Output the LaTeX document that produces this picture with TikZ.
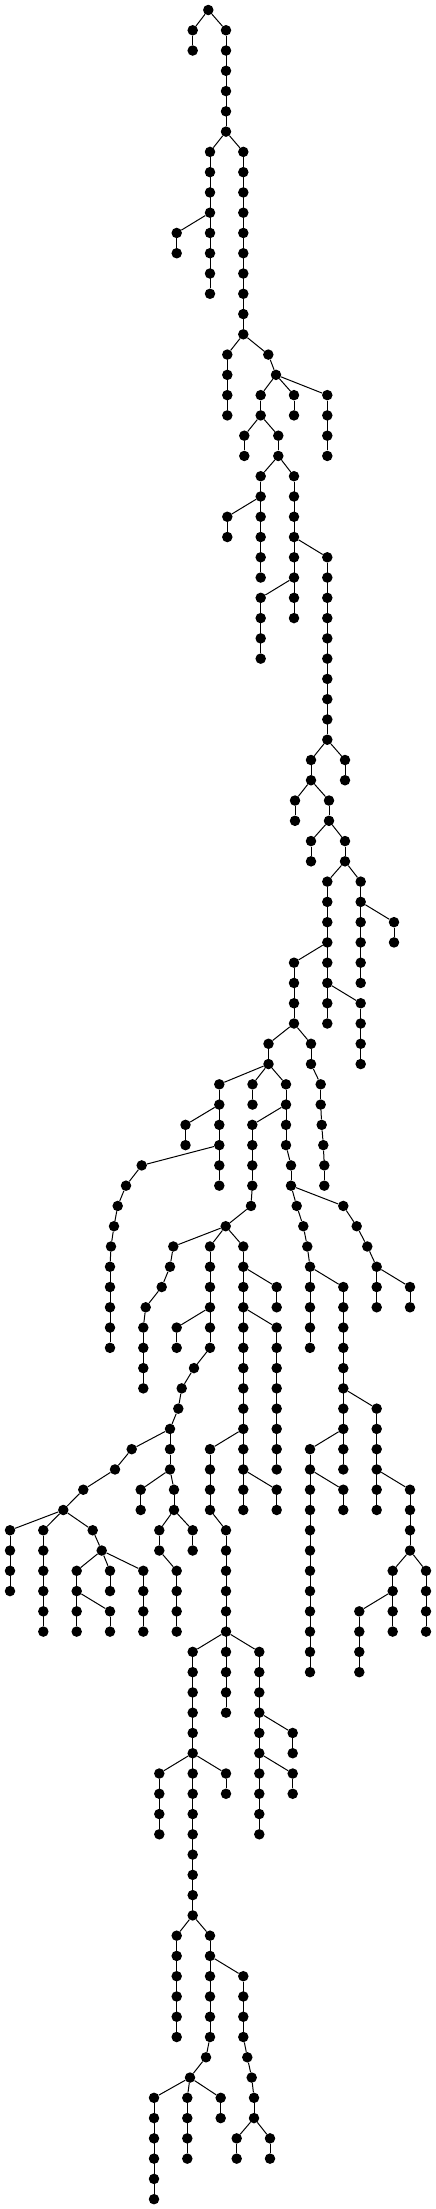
\documentclass[tikz,border=0pt]{standalone}
\tikzset{dot/.style={circle,fill=black,draw=none,inner sep=0pt,minimum size=10.5pt},
lnk/.style={line width=1pt,black}}
\newcommand\Yv[1]{-10-20.27*(#1)}
\newcommand\C[4]{\node[dot] (#1) at (#3,{\Yv{#4}}) {}; \draw[lnk] (#2) -- (#1);}
\newcommand\Ch[5]{%
 \foreach \l in {#4,...,#5}{\node[dot] (#1-\l) at (#3,{\Yv{\l}}) {};}%
 \draw[lnk] (#2) -- (#1-#4);%
 \ifnum#4<#5\relax \draw[lnk] (#1-#4) -- (#1-#5);\fi}
\begin{document}
\begin{tikzpicture}[x=1pt,y=1pt]
\useasboundingbox (0,0) rectangle (436,-2209);
\node[dot] (r) at (208.3,{\Yv{0}}) {};
\Ch{a}{r}{192.7}{1}{2}
\Ch{b}{r}{226}{1}{6}
\Ch{c}{b-6}{210}{7}{14}
\Ch{e}{c-10}{176.7}{11}{12}
\Ch{d}{b-6}{243.3}{7}{16}
\Ch{f}{d-16}{227.3}{17}{20}
\Ch{g}{d-16}{268.3}{17}{17}
\Ch{h}{g-17}{276}{18}{18}
\Ch{i}{h-18}{260.7}{19}{20}
\Ch{j}{h-18}{294}{19}{20}
\Ch{k}{h-18}{327.3}{19}{22}
\Ch{ia}{i-20}{244.3}{21}{22}
\Ch{ib}{i-20}{278.3}{21}{22}
\Ch{m}{ib-22}{260.7}{23}{28}
\Ch{ma}{m-24}{227.3}{25}{26}
\Ch{n}{ib-22}{294}{23}{30}
\Ch{o}{n-28}{260.7}{29}{32}
\Ch{p}{n-26}{327.3}{27}{36}
\Ch{q}{p-36}{345}{37}{38}
\Ch{s}{p-36}{311}{37}{38}
\Ch{sa}{s-38}{295}{39}{40}
\Ch{t}{s-38}{329}{39}{40}
\Ch{ta}{t-40}{311}{41}{42}
\Ch{u}{t-40}{345}{41}{42}
\Ch{v}{u-42}{327.3}{43}{50}
\Ch{w}{u-42}{360.7}{43}{48}
\Ch{wa}{w-44}{394}{45}{46}
\Ch{xx}{v-46}{294}{47}{50}
\Ch{y}{v-48}{360.7}{49}{52}
\Ch{z}{xx-50}{268.5}{51}{52}
\Ch{za}{xx-50}{311}{51}{52}
\C{zb53}{za-52}{320.7}{53}
\C{zb54}{zb53}{320.7}{54}
\C{zb55}{zb54}{321.7}{55}
\C{zb56}{zb55}{323.3}{56}
\C{zb57}{zb56}{324.3}{57}
\C{zb58}{zb57}{324.3}{58}
\Ch{P}{z-52}{219.3}{53}{58}
\Ch{Pa}{P-54}{185.5}{55}{56}
\Ch{R}{z-52}{252.5}{53}{54}
\Ch{S}{z-52}{286}{53}{56}
\C{S57}{S-56}{291}{57}
\C{S58}{S57}{291}{58}
\C{S59}{S58}{296.7}{59}
\C{S60}{S59}{303.3}{60}
\C{S61}{S60}{307.3}{61}
\Ch{cc}{S61}{310}{62}{66}
\Ch{aa}{cc-62}{343.3}{63}{72}
\Ch{ab}{aa-68}{376.7}{69}{74}
\Ch{ac}{ab-72}{410}{73}{76}
\Ch{ad}{ac-76}{392.7}{77}{80}
\Ch{ae}{ad-78}{359.3}{79}{82}
\Ch{af}{ac-76}{426}{77}{80}
\Ch{ag}{aa-70}{310}{71}{82}
\Ch{ah}{ag-72}{343.3}{73}{74}
\C{bb59}{S58}{343.3}{59}
\C{bb60}{bb59}{356.7}{60}
\C{bb61}{bb60}{367.3}{61}
\C{bb62}{bb61}{376.7}{62}
\Ch{bc}{bb62}{376.7}{63}{64}
\Ch{bd}{bb62}{410}{63}{64}
\Ch{pp}{S-54}{252.3}{55}{58}
\C{pp59}{pp-58}{251}{59}
\C{qq}{pp59}{225.7}{60}
\C{ra61}{qq}{173.3}{61}
\C{ra62}{ra61}{170}{62}
\C{ra63}{ra62}{161.7}{63}
\C{ra64}{ra63}{145.7}{64}
\Ch{rc}{ra64}{143.3}{65}{68}
\Ch{rb}{qq}{210}{61}{66}
\Ch{rbb}{rb-64}{176.7}{65}{66}
\C{s67}{rb-66}{194}{67}
\C{s68}{s67}{181.7}{68}
\C{s69}{s68}{178.3}{69}
\C{s70}{s69}{170}{70}
\C{t71}{s70}{131.7}{71}
\C{t72}{t71}{115}{72}
\C{t73}{t72}{83.3}{73}
\C{t74}{t73}{63.3}{74}
\Ch{taa}{t74}{10}{75}{78}
\Ch{tab}{t74}{43.3}{75}{80}
\C{t75}{t74}{92.7}{75}
\C{t76}{t75}{101.7}{76}
\Ch{ua}{t76}{76.7}{77}{80}
\Ch{uab}{ua-78}{110}{79}{80}
\Ch{ub}{t76}{110}{77}{78}
\Ch{uc}{t76}{143.3}{77}{80}
\Ch{sv}{s70}{170}{71}{72}
\Ch{va}{sv-72}{140.7}{73}{74}
\Ch{vb}{sv-72}{174}{73}{74}
\Ch{wb}{vb-74}{159.3}{75}{76}
\Ch{wc}{wb-76}{176.7}{77}{80}
\Ch{wd}{vb-74}{192.7}{75}{76}
\Ch{rr}{qq}{243.3}{61}{74}
\Ch{rra}{rr-62}{276.7}{63}{64}
\Ch{rrb}{rr-64}{276.7}{65}{72}
\Ch{rrc}{rr-70}{210}{71}{74}
\Ch{rrd}{rr-72}{276.7}{73}{74}
\Ch{Q}{rrc-74}{226}{75}{84}
\Ch{Qa}{Q-80}{192.7}{81}{94}
\Ch{Qb}{Qa-86}{159.3}{87}{90}
\Ch{Qc}{Qa-86}{226}{87}{88}
\Ch{Qd}{Qa-94}{176.7}{95}{100}
\Ch{Qe}{Qa-94}{210}{95}{100}
\Ch{Qf}{Qe-96}{243.3}{97}{100}
\C{Qf101}{Qf-100}{247.3}{101}
\C{Qf102}{Qf101}{251.7}{102}
\Ch{Qg}{Qf102}{254}{103}{104}
\Ch{Qh}{Qg-104}{236.7}{105}{106}
\Ch{Qi}{Qg-104}{270}{105}{106}
\C{Qe101}{Qe-100}{206}{101}
\C{Qe102}{Qe101}{190}{102}
\Ch{Qj}{Qe102}{154}{103}{108}
\Ch{Qk}{Qe102}{187.3}{103}{106}
\Ch{Ql}{Qe102}{220.7}{103}{104}
\Ch{Qm}{Q-80}{259.3}{81}{90}
\Ch{Qn}{Qm-84}{292.7}{85}{86}
\Ch{Qo}{Qm-86}{292.7}{87}{88}
\C{k57}{P-56}{141.7}{57}
\C{k58}{k57}{126}{58}
\C{k59}{k58}{117.7}{59}
\C{k60}{k59}{114}{60}
\C{k61}{k60}{111}{61}
\Ch{kk}{k61}{110}{62}{66}
\end{tikzpicture}
\end{document}
